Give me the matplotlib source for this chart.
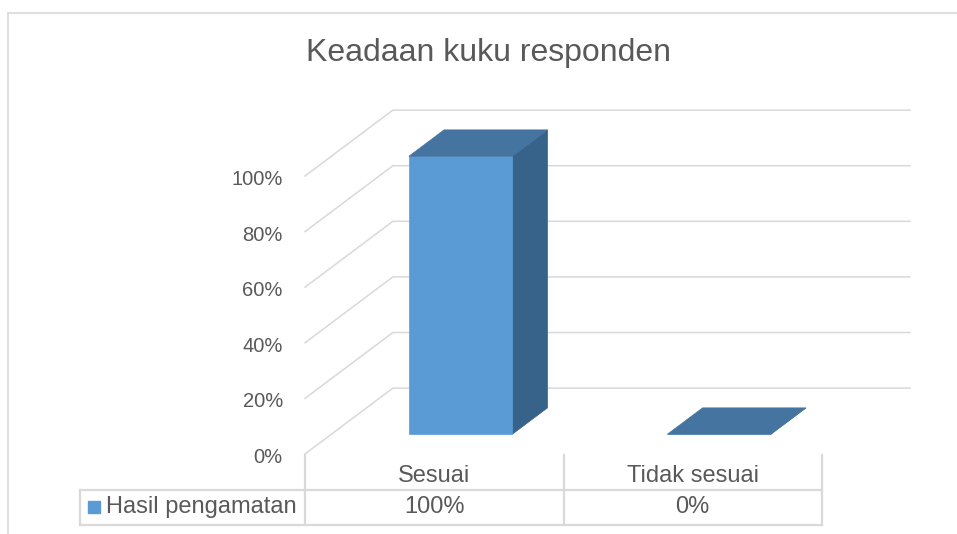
import matplotlib.pyplot as plt
from matplotlib.patches import Polygon
from matplotlib.lines import Line2D

plt.rcParams['font.family'] = ['Liberation Sans', 'DejaVu Sans']

title = 'Keadaan kuku responden'
categories = ['Sesuai', 'Tidak sesuai']
series_name = 'Hasil pengamatan'
values = [1.00, 0.00]
value_labels = ['100%', '0%']
y_ticks = [0.0, 0.2, 0.4, 0.6, 0.8, 1.0]
y_tick_labels = ['0%', '20%', '40%', '60%', '80%', '100%']

text_col = '#595959'
grid_col = '#D9D9D9'
front_col = '#5B9BD5'
top_col = '#44749F'
side_col = '#37628A'

# oblique depth offset in data units (full depth of the plot box)
DX, DY = 0.34, 0.237
bar_w = 0.4
d0, d1 = 0.3, 0.7


def proj(x, y, d):
    return (x + d * DX, y + d * DY)


W, H = 957, 534
fig = plt.figure(figsize=(W / 100, H / 100), dpi=100)
# front plane: x 0..2 -> px 305..822, y 0..1 -> px 454..176
ax = fig.add_axes([305 / W, 1 - 454 / H, (822 - 305) / W, (454 - 176) / H])
ax.set_xlim(0, 2)
ax.set_ylim(0, 1)
ax.axis('off')

# outer chart border
fig.add_artist(Line2D([8 / W, 8 / W], [-0.1, 1 - 13 / H], color=grid_col, lw=1.2, transform=fig.transFigure))
fig.add_artist(Line2D([8 / W, 1.1], [1 - 13 / H, 1 - 13 / H], color=grid_col, lw=1.2, transform=fig.transFigure))

fig.text(488 / W, 1 - 53 / H, title, ha='center', va='center', fontsize=23, color=text_col)

# gridlines on side wall and back wall
for v, lab in zip(y_ticks, y_tick_labels):
    pts = [proj(0, v, 0), proj(0, v, 1), proj(2, v, 1)]
    ax.plot([p[0] for p in pts], [p[1] for p in pts], color=grid_col, lw=1.1, clip_on=False, zorder=1)
    ax.annotate(lab, (0, v), xytext=(-16, -2.5), textcoords='offset points', ha='right', va='center',
                fontsize=14.5, color=text_col, annotation_clip=False)

# 3D bars
for i, v in enumerate(values):
    x0 = i + 0.5 - bar_w / 2
    x1 = i + 0.5 + bar_w / 2
    front = [proj(x0, 0, d0), proj(x1, 0, d0), proj(x1, v, d0), proj(x0, v, d0)]
    side = [proj(x1, 0, d0), proj(x1, 0, d1), proj(x1, v, d1), proj(x1, v, d0)]
    top = [proj(x0, v, d0), proj(x1, v, d0), proj(x1, v, d1), proj(x0, v, d1)]
    for poly, c in [(side, side_col), (front, front_col), (top, top_col)]:
        ax.add_patch(Polygon(poly, closed=True, facecolor=c, edgecolor=c, lw=0.5, clip_on=False, zorder=3))

# data table below the plot
y_cat_top = (454 - 455) / 278
y_row_top = (454 - 490) / 278
y_row_bot = (454 - 525) / 278
x_leg = (80 - 305) / 258.5
tl = dict(color=grid_col, lw=1.6, clip_on=False, zorder=2)
for xb in range(len(categories) + 1):
    ax.plot([xb, xb], [y_cat_top, y_row_bot], **tl)
ax.plot([x_leg, x_leg], [y_row_top, y_row_bot], **tl)
ax.plot([x_leg, len(categories)], [y_row_top, y_row_top], **tl)
ax.plot([x_leg, len(categories)], [y_row_bot, y_row_bot], **tl)

y_cat_txt = (454 - 476) / 278
y_val_txt = (454 - 507) / 278
for i, (c, lab) in enumerate(zip(categories, value_labels)):
    ax.text(i + 0.5, y_cat_txt, c, ha='center', va='center', fontsize=17, color=text_col)
    ax.text(i + 0.5, y_val_txt, lab, ha='center', va='center', fontsize=17, color=text_col)

ax.plot([(94 - 305) / 258.5], [y_val_txt], marker='s', ms=9, color=front_col, clip_on=False, ls='none')
ax.text((106 - 305) / 258.5, y_val_txt, series_name, ha='left', va='center', fontsize=17, color=text_col)

fig.savefig('out.png', dpi=100)
